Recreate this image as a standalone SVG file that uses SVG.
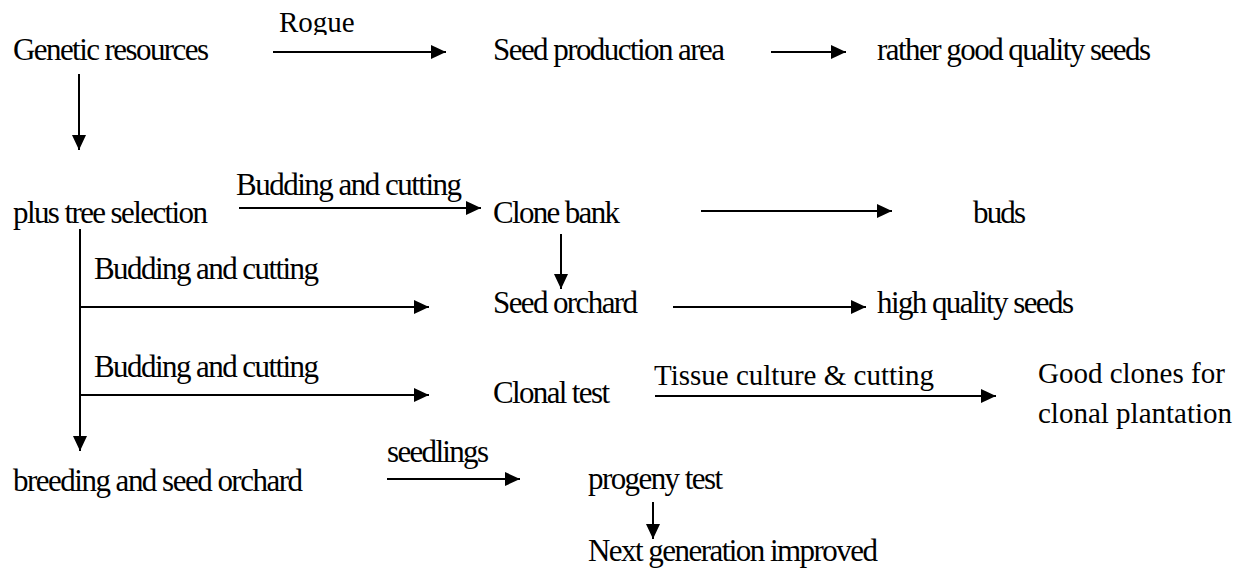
<svg xmlns="http://www.w3.org/2000/svg" width="1246" height="572" viewBox="0 0 1246 572">
<style>
text{font-family:'Liberation Serif','Times New Roman',Times,'DejaVu Serif',serif;fill:#000}
.n{font-size:31px}
.r{font-size:29px}
.c{stroke:#000;stroke-width:2;fill:none;marker-end:url(#ah)}
</style>
<defs>
<marker id="ah" markerUnits="userSpaceOnUse" markerWidth="16" markerHeight="15" refX="15" refY="7" orient="auto">
<path d="M0,0 L15,7 L0,14 Z" fill="#000"/>
</marker>
<clipPath id="rogueClip"><rect x="260" y="0" width="120" height="35"/></clipPath>
</defs>
<rect width="1246" height="572" fill="#fff"/>
<g id="connectors">
<g id="e-rogue"><text class="r" x="279" y="32" clip-path="url(#rogueClip)">Rogue</text><line class="c" x1="273" y1="52" x2="446" y2="52"/></g>
<line class="c" x1="771" y1="52" x2="846" y2="52"/>
<line class="c" x1="79" y1="74" x2="79" y2="150"/>
<g id="e-bud1"><text class="n" x="236" y="195" textLength="226" lengthAdjust="spacing">Budding and cutting</text><line class="c" x1="239" y1="208" x2="481" y2="208"/></g>
<line class="c" x1="701" y1="211" x2="892" y2="211"/>
<line class="c" x1="561" y1="234" x2="561" y2="289"/>
<line class="c" x1="673" y1="307" x2="866" y2="307"/>
<line class="c" x1="80" y1="229" x2="80" y2="451"/>
<g id="e-bud2"><text class="n" x="94" y="279" textLength="225" lengthAdjust="spacing">Budding and cutting</text><line class="c" x1="80" y1="307" x2="429" y2="307"/></g>
<g id="e-bud3"><text class="n" x="94" y="377" textLength="225" lengthAdjust="spacing">Budding and cutting</text><line class="c" x1="80" y1="395" x2="429" y2="395"/></g>
<g id="e-tissue"><text class="r" x="654" y="385">Tissue culture &amp; cutting</text><line class="c" x1="655" y1="396" x2="996" y2="396"/></g>
<g id="e-seedlings"><text class="n" x="387" y="462" textLength="102" lengthAdjust="spacing">seedlings</text><line class="c" x1="387" y1="479" x2="520" y2="479"/></g>
<line class="c" x1="653" y1="502" x2="653" y2="539"/>
</g>
<g id="genetic"><text class="n" x="13" y="60" textLength="196" lengthAdjust="spacing">Genetic resources</text></g>
<g id="seedprod"><text class="n" x="493" y="60" textLength="232" lengthAdjust="spacing">Seed production area</text></g>
<g id="rather"><text class="n" x="877" y="60" textLength="274" lengthAdjust="spacing">rather good quality seeds</text></g>
<g id="plustree"><text class="n" x="13" y="223" textLength="195" lengthAdjust="spacing">plus tree selection</text></g>
<g id="clonebank"><text class="n" x="493" y="223" textLength="127" lengthAdjust="spacing">Clone bank</text></g>
<g id="buds"><text class="n" x="973" y="223" textLength="53" lengthAdjust="spacing">buds</text></g>
<g id="seedorchard"><text class="n" x="493" y="313" textLength="145" lengthAdjust="spacing">Seed orchard</text></g>
<g id="highq"><text class="n" x="877" y="313" textLength="197" lengthAdjust="spacing">high quality seeds</text></g>
<g id="clonaltest"><text class="n" x="493" y="403" textLength="117" lengthAdjust="spacing">Clonal test</text></g>
<g id="goodclones"><text class="r" x="1038" y="383">Good clones for</text><text class="r" x="1038" y="423">clonal plantation</text></g>
<g id="breeding"><text class="n" x="13" y="491" textLength="290" lengthAdjust="spacing">breeding and seed orchard</text></g>
<g id="progeny"><text class="n" x="588" y="489" textLength="135" lengthAdjust="spacing">progeny test</text></g>
<g id="nextgen"><text class="n" x="588" y="561" textLength="290" lengthAdjust="spacing">Next generation improved</text></g>
</svg>
